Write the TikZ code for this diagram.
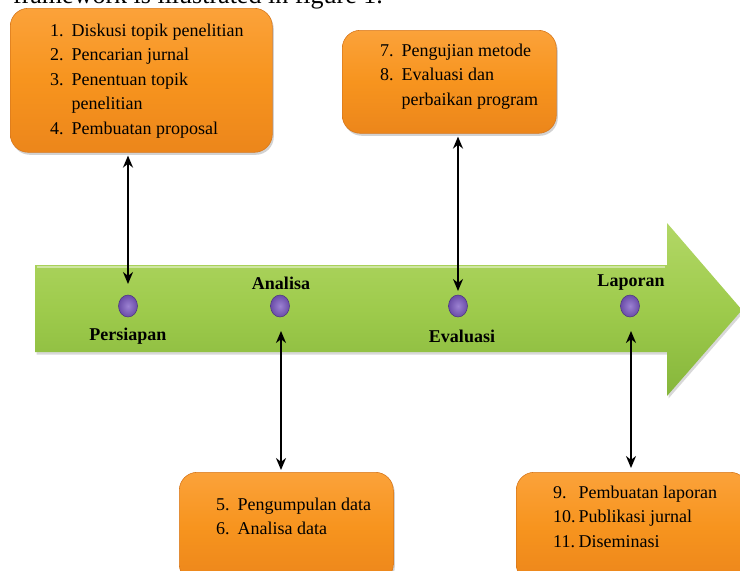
\documentclass[tikz,border=0pt]{standalone}
\usepackage{fontspec}
\setmainfont{Liberation Serif}
\usetikzlibrary{shadows,arrows.meta,shapes.geometric}
\definecolor{orTop}{HTML}{FBA23A}
\definecolor{orMid}{HTML}{F7941E}
\definecolor{orBot}{HTML}{EC861B}
\definecolor{orEdge}{HTML}{D8781C}
\definecolor{grTop}{HTML}{B2D766}
\definecolor{grMid}{HTML}{9ECB4C}
\definecolor{grBot}{HTML}{86B63B}
\definecolor{puIn}{HTML}{9C82D2}
\definecolor{puOut}{HTML}{6A4CA8}
\definecolor{puEdge}{HTML}{4A3280}
\begin{document}
\begin{tikzpicture}[x=1pt,y=-1pt,
  obox/.style={draw=orEdge, line width=0.6pt, rounded corners=18pt, anchor=north west,
    top color=orTop, bottom color=orBot, middle color=orMid, inner sep=0pt,
    drop shadow={opacity=0.35, shadow xshift=1.5pt, shadow yshift=-2.5pt}},
  btext/.style={anchor=north west, inner sep=0pt, align=left, font=\fontsize{18}{24.5}\selectfont},
  dot/.style={ellipse, minimum width=19pt, minimum height=22pt, inner sep=0pt,
    inner color=puIn, outer color=puOut, draw=puEdge, line width=0.5pt},
  lab/.style={font=\fontsize{18}{20}\selectfont\bfseries, inner sep=0pt},
  link/.style={{Stealth[length=12pt,width=10pt]}-{Stealth[length=12pt,width=10pt]}, line width=2.7pt, black}
]
\useasboundingbox (0,0) rectangle (740,571);
\clip (0,0) rectangle (740,571);
\fill[white] (0,0) rectangle (740,571);

% cut-off line of body text
\node[anchor=base east, inner sep=0pt, font=\fontsize{26}{28}\selectfont] (cap) at (383,3) {framework is illustrated in figure 1.};

% green arrow
\shade[top color=grTop, bottom color=grBot, middle color=grMid, drop shadow={opacity=0.3, shadow xshift=1.5pt, shadow yshift=-2.5pt}]
  (35,265) -- (667,265) -- (667,223) -- (742,310) -- (667,396) -- (667,352) -- (35,352) -- cycle;
\draw[white, opacity=0.45, line width=1.2pt] (37,267) -- (665,267);

% boxes
\node[obox, minimum width=262pt, minimum height=144pt] (b1) at (10,8) {};
\node[obox, minimum width=214pt, minimum height=103pt] (b2) at (342,30) {};
\node[obox, minimum width=214pt, minimum height=110pt] (b3) at (179,472) {};
\node[obox, minimum width=232pt, minimum height=110pt] (b4) at (516,472) {};

% box texts
\node[btext] (t1) at (50,19) {%
  \begin{tabular}{@{}l@{\hspace{8pt}}l@{}}
  1. & Diskusi topik penelitian\\
  2. & Pencarian jurnal\\
  3. & Penentuan topik\\
     & penelitian\\
  4. & Pembuatan proposal
  \end{tabular}};
\node[btext] (t2) at (380,39) {%
  \begin{tabular}{@{}l@{\hspace{8pt}}l@{}}
  7. & Pengujian metode\\
  8. & Evaluasi dan\\
     & perbaikan program
  \end{tabular}};
\node[btext] (t3) at (216,493) {%
  \begin{tabular}{@{}l@{\hspace{8pt}}l@{}}
  5. & Pengumpulan data\\
  6. & Analisa data
  \end{tabular}};
\node[btext] (t4) at (553,481) {%
  \begin{tabular}{@{}l@{\hspace{3pt}}l@{}}
  9. & Pembuatan laporan\\
  10. & Publikasi jurnal\\
  11. & Diseminasi
  \end{tabular}};

% dots
\node[dot] (d1) at (128,306) {};
\node[dot] (d2) at (280,306) {};
\node[dot] (d3) at (458,306) {};
\node[dot] (d4) at (630,306) {};

% labels
\node[lab] (l1) at (128,336) {Persiapan};
\node[lab] (l2) at (281,283) {Analisa};
\node[lab] (l3) at (462,336) {Evaluasi};
\node[lab] (l4) at (631,283) {Laporan};

% connectors
\coordinate (a1) at (128,284);
\coordinate (a2) at (458,291);
\coordinate (a3) at (281,331);
\coordinate (a4) at (631,331);
\draw[link] ([yshift=-3pt]b1.south -| a1) -- (a1);
\draw[link] ([yshift=-3pt]b2.south -| a2) -- (a2);
\draw[link] (a3) -- ([yshift=2pt]b3.north -| a3);
\draw[link] (a4) -- ([yshift=4pt]b4.north -| a4);
\end{tikzpicture}
\end{document}
